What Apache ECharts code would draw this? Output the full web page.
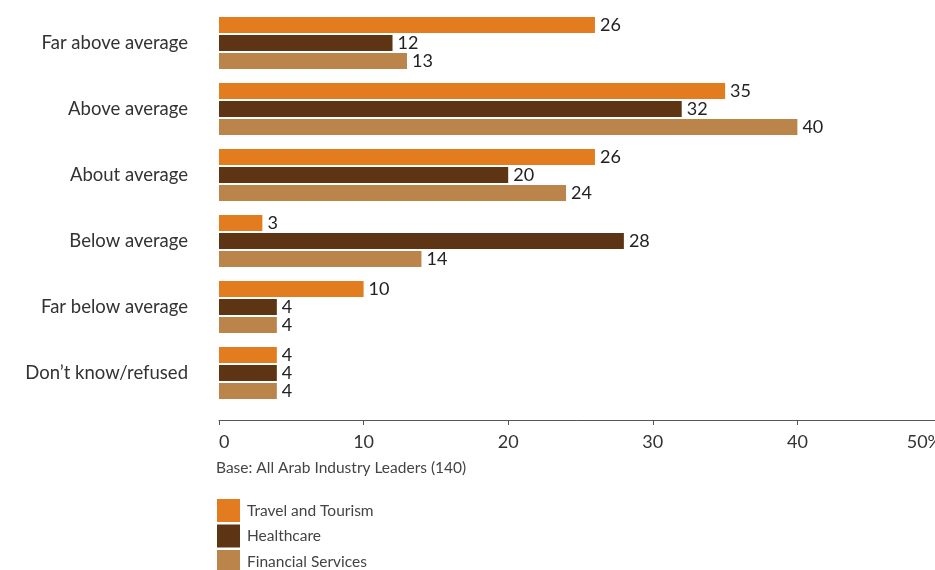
<!DOCTYPE html>
<html>
<head>
<meta charset="utf-8">
<script src="https://cdn.jsdelivr.net/npm/echarts@6/dist/echarts.min.js"></script>
<style>
  html, body { margin: 0; padding: 0; background: #ffffff; }
  #chart { width: 935px; height: 570px; }
</style>
</head>
<body>
<div id="chart"></div>
<script>
// Ratings, top to bottom
const categories = ['Far above average', 'Above average', 'About average', 'Below average', 'Far below average', 'Don\u2019t know/refused'];

// Share of respondents (%) per industry
const travelTourism = [26, 35, 26, 3, 10, 4];
const healthcare = [12, 32, 20, 28, 4, 4];
const financialServices = [13, 40, 24, 14, 4, 4];

const seriesNames = ['Travel and Tourism', 'Healthcare', 'Financial Services'];
const seriesColors = ['#E27C1E', '#5D3514', '#BA844A'];

const xTicks = [0, 10, 20, 30, 40, 50];
const baseNote = 'Base: All Arab Industry Leaders (140)';

const FONT = 'Lato, "Open Sans", sans-serif';

const chart = echarts.init(document.getElementById('chart'), null, { renderer: 'canvas' });

const seriesData = [travelTourism, healthcare, financialServices];

// One stacked legend row per industry, swatch on the left
const legends = seriesNames.map((name, i) => ({
  data: [name],
  orient: 'vertical',
  left: 217,
  top: 499 + i * 25.5,
  itemWidth: 23,
  itemHeight: 23,
  icon: 'rect',
  padding: 0,
  textStyle: { fontFamily: FONT, fontSize: 15.5, color: '#444', padding: [1, 0, 0, 2] }
}));

chart.setOption({
  animation: false,
  backgroundColor: '#ffffff',
  textStyle: { fontFamily: FONT },
  grid: { left: 219, top: 10, width: 723, height: 396, containLabel: false, outerBoundsMode: 'none' },
  legend: legends,
  graphic: [{
    type: 'text',
    left: 216,
    top: 460,
    style: { text: baseNote, font: '15.5px ' + FONT, fill: '#444' }
  }],
  xAxis: {
    type: 'value',
    min: xTicks[0],
    max: xTicks[xTicks.length - 1],
    interval: 10,
    offset: 14,
    splitLine: { show: false },
    axisLine: { show: true, lineStyle: { color: '#555', width: 1 } },
    axisTick: { show: true, length: 5, lineStyle: { color: '#555' } },
    axisLabel: {
      fontFamily: FONT,
      fontSize: 18,
      color: '#333',
      margin: 13,
      alignMinLabel: 'left',
      alignMaxLabel: 'right',
      formatter: v => (v === 50 ? '50%' : String(v))
    }
  },
  yAxis: {
    type: 'category',
    data: categories,
    inverse: true,
    axisLine: { show: false },
    axisTick: { show: false },
    axisLabel: { fontFamily: FONT, fontSize: 18.5, color: '#333', margin: 31, padding: [0, 0, 2, 0] }
  },
  series: seriesNames.map((name, i) => ({
    name,
    type: 'bar',
    data: seriesData[i],
    barWidth: 16,
    barGap: '12%',
    itemStyle: { color: seriesColors[i] },
    label: {
      show: true,
      position: 'right',
      distance: 5,
      fontFamily: FONT,
      fontSize: 18,
      color: '#222'
    }
  }))
});
</script>
</body>
</html>
